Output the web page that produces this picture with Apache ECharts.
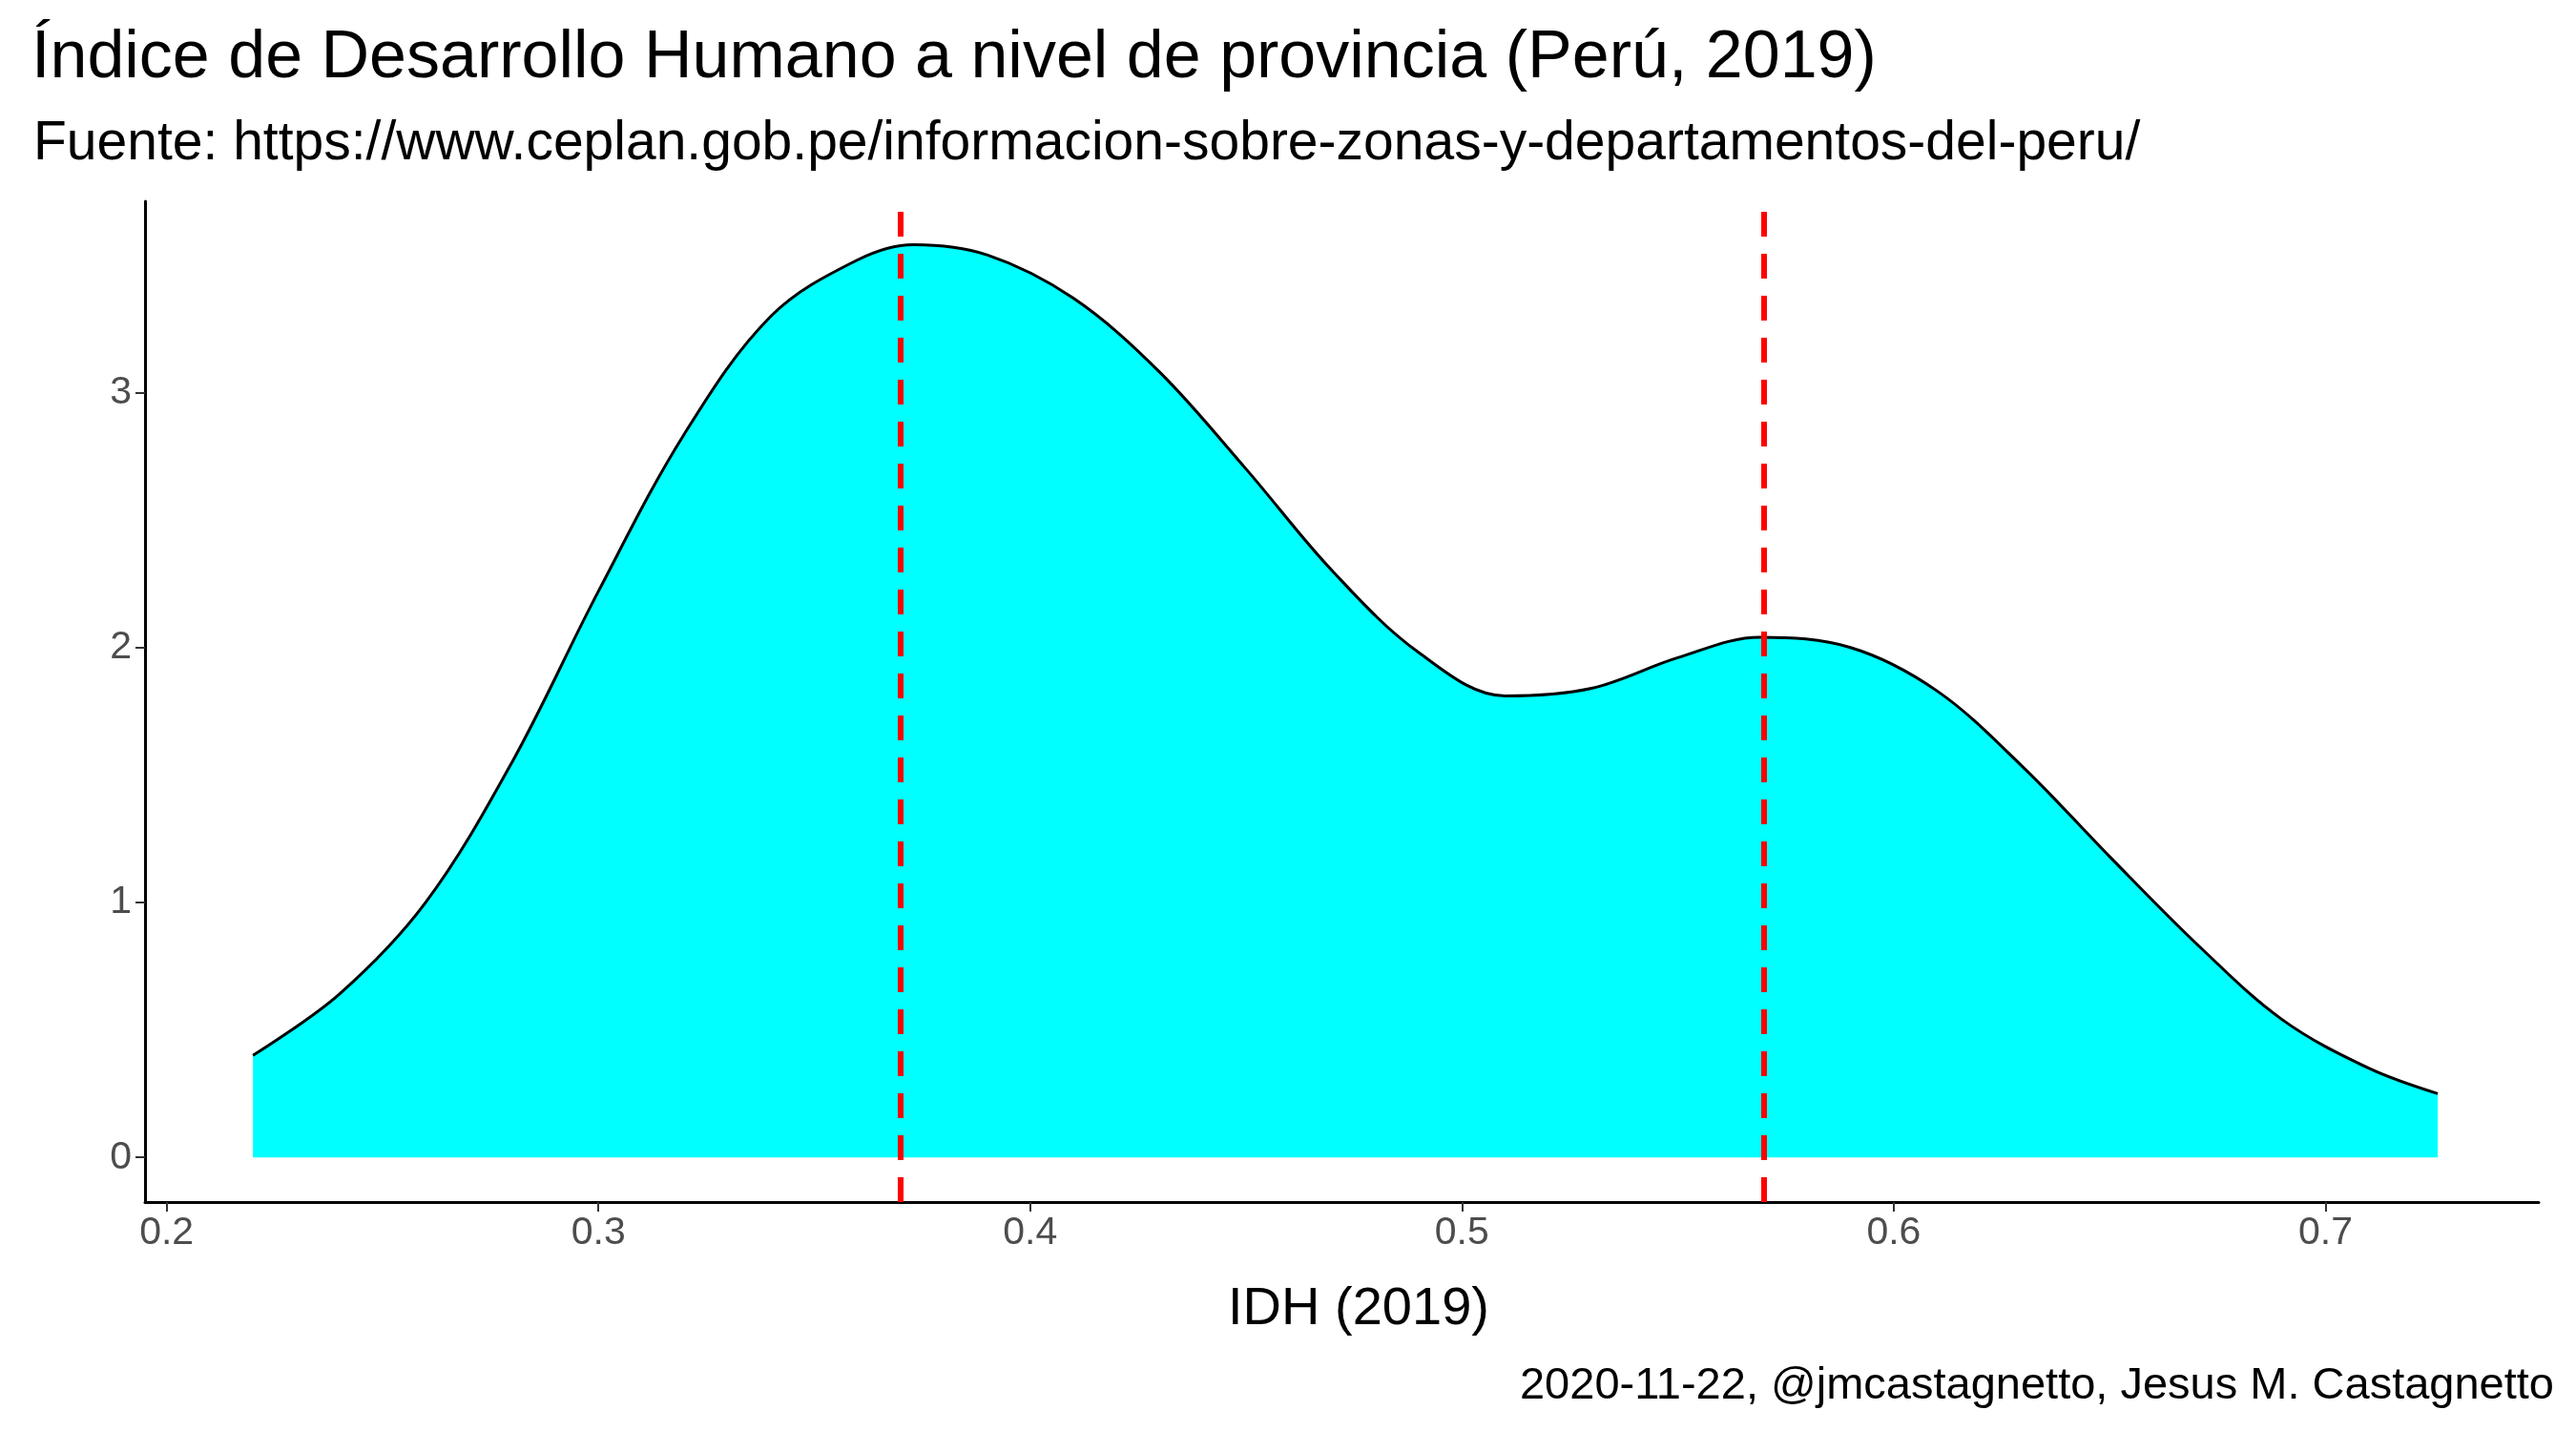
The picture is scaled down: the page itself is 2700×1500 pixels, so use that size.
<!DOCTYPE html>
<html>
<head>
<meta charset="utf-8">
<script src="https://cdn.jsdelivr.net/npm/echarts@6/dist/echarts.min.js"></script>
<style>html,body{margin:0;padding:0;background:#fff}#chart{width:2700px;height:1500px}</style>
</head>
<body>
<div id="chart"></div>
<script>
var myChart = echarts.init(document.getElementById('chart'));

// densidad estimada
var idh = [0.22, 0.24, 0.26, 0.28, 0.30, 0.32, 0.34, 0.36, 0.373, 0.39, 0.41, 0.43, 0.45, 0.47, 0.49, 0.51, 0.53, 0.55, 0.569, 0.59, 0.61, 0.63, 0.65, 0.67, 0.69, 0.71, 0.726];
var densidad = [0.40, 0.64, 1.00, 1.55, 2.22, 2.84, 3.30, 3.52, 3.58, 3.54, 3.37, 3.08, 2.70, 2.30, 1.98, 1.81, 1.84, 1.96, 2.04, 2.00, 1.83, 1.53, 1.18, 0.84, 0.54, 0.35, 0.25];
var modas = [0.373, 0.569];
var xTicks = [0.2, 0.3, 0.4, 0.5, 0.6, 0.7];
var yTicks = [0, 1, 2, 3];

var puntos = [];
for (var i = 0; i < idh.length; i++) {
    puntos.push([idh[i], densidad[i]]);
}

var option = {
    backgroundColor: '#fff',
    animation: false,
    title: [
        {
            text: 'Índice de Desarrollo Humano a nivel de provincia (Perú, 2019)',
            left: 28, top: 22,
            textStyle: { fontFamily: 'Liberation Sans', fontSize: 70, fontWeight: 'normal', color: '#000' }
        },
        {
            text: 'Fuente: https://www.ceplan.gob.pe/informacion-sobre-zonas-y-departamentos-del-peru/',
            left: 30, top: 118,
            textStyle: { fontFamily: 'Liberation Sans', fontSize: 57, fontWeight: 'normal', color: '#000' }
        },
        {
            text: 'IDH (2019)',
            left: 1419, top: 1340, textAlign: 'center',
            textStyle: { fontFamily: 'Liberation Sans', fontSize: 56, fontWeight: 'normal', color: '#000' }
        },
        {
            text: '2020-11-22, @jmcastagnetto, Jesus M. Castagnetto',
            right: 18, top: 1425,
            textStyle: { fontFamily: 'Liberation Sans', fontSize: 47, fontWeight: 'normal', color: '#000' }
        }
    ],
    grid: { left: 152, right: 39, top: 211, bottom: 240 },
    xAxis: {
        type: 'value',
        min: 0.195, max: 0.7494,
        splitLine: { show: false },
        axisLine: { onZero: false, lineStyle: { color: '#000', width: 3 } },
        axisTick: { customValues: xTicks, length: 10, lineStyle: { color: '#333', width: 2 } },
        axisLabel: { customValues: xTicks, color: '#4d4d4d', fontSize: 41, fontFamily: 'Liberation Sans', margin: 12 }
    },
    yAxis: {
        type: 'value',
        min: -0.175, max: 3.75,
        splitLine: { show: false },
        axisLine: { show: true, onZero: false, lineStyle: { color: '#000', width: 3 } },
        axisTick: { show: true, customValues: yTicks, length: 10, lineStyle: { color: '#333', width: 2 } },
        axisLabel: { customValues: yTicks, color: '#4d4d4d', fontSize: 41, fontFamily: 'Liberation Sans', margin: 14 }
    },
    series: [{
        type: 'line',
        data: puntos,
        smooth: 0.35,
        showSymbol: false,
        lineStyle: { color: '#000', width: 3 },
        areaStyle: { color: '#00ffff', opacity: 1, origin: 0 },
        markLine: {
            silent: true,
            symbol: 'none',
            label: { show: false },
            lineStyle: { color: '#ff0000', type: [26, 18], width: 6 },
            data: modas.map(function (m) { return { xAxis: m }; })
        }
    }]
};
myChart.setOption(option);
</script>
</body>
</html>
